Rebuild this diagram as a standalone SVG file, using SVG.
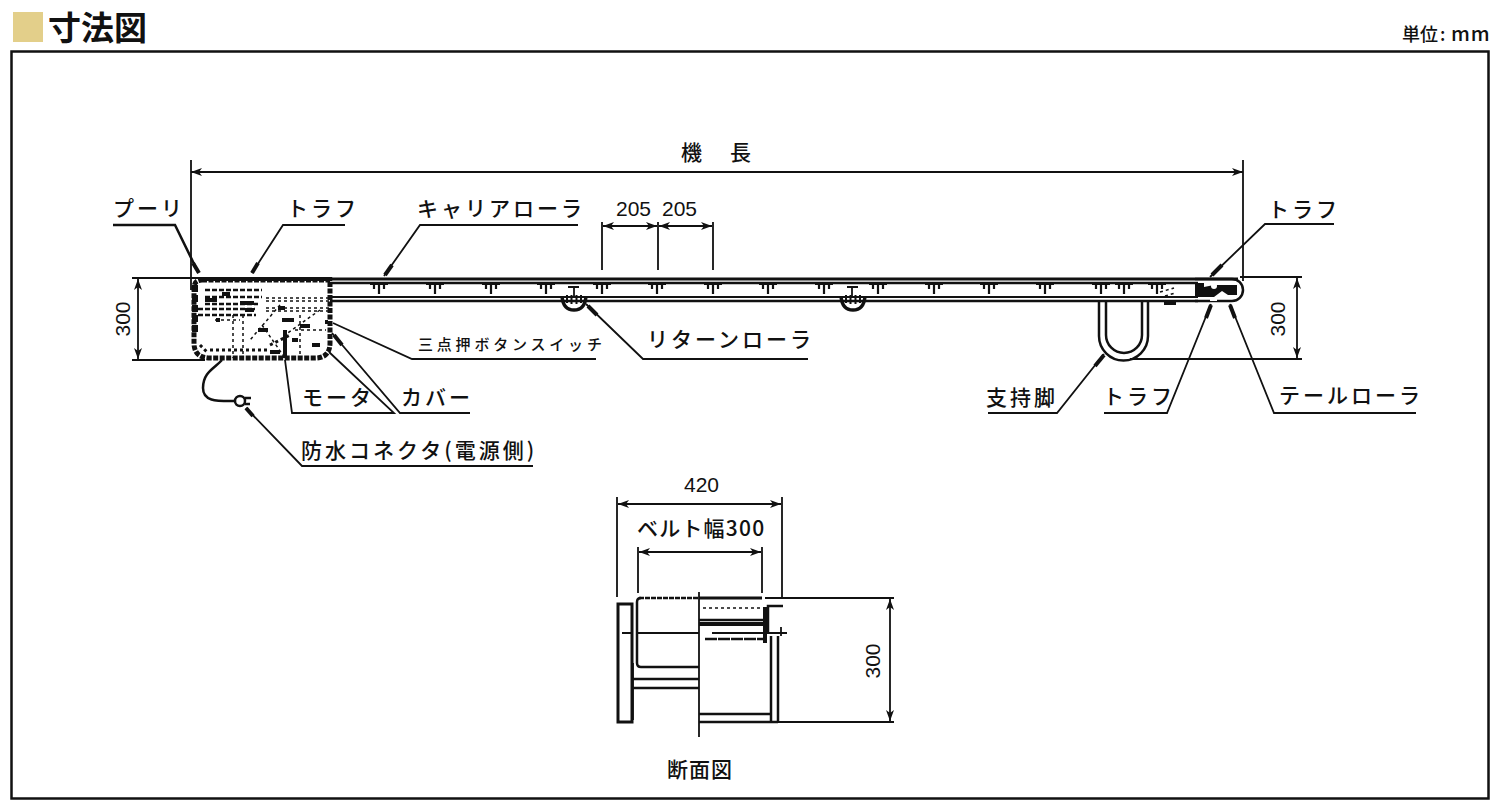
<svg xmlns="http://www.w3.org/2000/svg" width="1500" height="811" viewBox="0 0 1500 811">
<style>
text{font-family:"Noto Sans CJK JP","Liberation Sans",sans-serif;fill:#111;font-weight:500}
.t{font-size:21px;letter-spacing:3px}
.n{font-size:21px;font-family:"Liberation Sans",sans-serif}
.l{fill:none;stroke:#111;stroke-width:1.800}
.m{fill:none;stroke:#111;stroke-width:2.500}
.h{fill:none;stroke:#111;stroke-width:4}
.d{fill:none;stroke:#111;stroke-width:1.500;stroke-dasharray:3 3}
.k{fill:none;stroke:#111;stroke-width:2.500;stroke-dasharray:5 2}
.r{fill:#111;stroke:none}
</style>
<defs>
<marker id="a" viewBox="0 0 12 8" refX="11" refY="4" markerWidth="12" markerHeight="8" markerUnits="userSpaceOnUse" orient="auto-start-reverse"><path d="M0 0L11 4L0 8L3 4Z" fill="#111"/></marker>
<g id="cr"><path d="M-9 -1H9M0 -3V9M-5 -1V4M5 -1V4" fill="none" stroke="#111" stroke-width="2.200"/></g>
<g id="rr"><path d="M-12 0Q-11 14 0 14Q11 14 12 0" fill="none" stroke="#111" stroke-width="3.500"/><path d="M-7 -1V7M-2.500 -1V8M2.500 -1V8M7 -1V7" fill="none" stroke="#111" stroke-width="2"/></g>
</defs>
<g id="header">
<rect x="13" y="12" width="30" height="30" fill="#e3cf8a"/>
<text x="48" y="40" font-size="33" style="font-weight:700">寸法図</text>
<text x="1402" y="41" font-size="18">単位</text>
<text x="1440" y="41" font-size="18">:</text>
<text x="1451" y="41" font-size="20" letter-spacing="1">mm</text>
</g>
<rect id="frame" x="11.500" y="51.500" width="1477" height="747" fill="none" stroke="#111" stroke-width="2.500"/>
<g id="connectors">
<path class="l" d="M191 160V290M1243 160V281" />
<path class="l" d="M191 172H1243" marker-start="url(#a)" marker-end="url(#a)"/>
<path class="l" d="M602 270V222M658 270V222M713 270V222"/>
<path class="l" d="M603 226H657" marker-start="url(#a)" marker-end="url(#a)"/>
<path class="l" d="M659 226H712" marker-start="url(#a)" marker-end="url(#a)"/>
<path class="l" d="M132 278H200M132 360H205"/>
<path class="l" d="M138 279V359" marker-start="url(#a)" marker-end="url(#a)"/>
<path class="l" d="M1240 277H1302M1130 359H1302"/>
<path class="l" d="M1297 278V358" marker-start="url(#a)" marker-end="url(#a)"/>
<path class="m" d="M113 225H175L198 272"/>
<path class="h" d="M193 263L199 273"/>
<path class="l" d="M345 225H283L252 273"/>
<path class="h" d="M258 263L252 273"/>
<path class="l" d="M578 225H420L384 276"/>
<path class="h" d="M392 265L385 275"/>
<path class="l" d="M1334 224H1265L1210 277"/>
<path class="h" d="M1222 265L1212 275"/>
<path class="l" d="M808 359H643L586 304"/>
<path class="h" d="M597 315L588 306"/>
<path class="l" d="M596 359H412L333 323"/>
<path class="l" d="M470 413H400L332 333"/>
<path class="h" d="M342 345L334 335"/>
<path class="l" d="M368 413H394L329 352"/>
<path class="l" d="M368 413H292L285 360"/>
<path class="l" d="M533 466H302L246 408"/>
<path class="h" d="M253 416L246 408"/>
<path class="l" d="M988 413H1057L1104 354"/>
<path class="h" d="M1095 366L1104 355"/>
<path class="l" d="M1104 413H1167L1211 304"/>
<path class="h" d="M1206 318L1211 305"/>
<path class="l" d="M1416 413H1274L1230 304"/>
<path class="h" d="M1235 318L1230 305"/>
<path class="l" d="M617 497V597M782 497V597"/>
<path class="l" d="M618 504H781" marker-start="url(#a)" marker-end="url(#a)"/>
<path class="l" d="M638 547V593M762 547V593"/>
<path class="l" d="M639 552H761" marker-start="url(#a)" marker-end="url(#a)"/>
<path class="l" d="M765 598H894M778 722H894"/>
<path class="l" d="M890 599V721" marker-start="url(#a)" marker-end="url(#a)"/>
</g>
<g id="drive-unit">
<path d="M202 280H330V343Q330 358 315 358H210Q194 358 194 343V288Q194 280 202 280Z" fill="none" stroke="#111" stroke-width="5" stroke-dasharray="5 1.500"/>
<path d="M200 279H332" stroke="#111" stroke-width="4"/>
<path d="M195 285V335" stroke="#111" stroke-width="6" stroke-dasharray="7 3"/>
<path class="k" d="M205 290H262M205 297H262M205 304H258M198 309H255M198 315H256"/>
<path class="d" d="M266 298H330M266 301H330M266 308H330M266 311H330M233 315V358M243 315V358M262 325L285 358M280 305L250 340M300 315V355M320 310L285 335M215 320H240M295 330H326"/>
<path class="h" d="M205 300h12M222 294h8M240 303h14M245 310h9M278 308h7M282 320h12M285 330v28M258 330h10M312 345h8M325 322h3M300 326h10M216 320h4M292 340h6M270 352h10"/>
<path class="d" d="M200 345l8 8M210 350h60M270 345l20 -10" style="stroke-width:3"/>
<path class="m" d="M222 360C215 368 203 372 203 388C203 402 218 401 234 401"/>
<circle cx="240" cy="401" r="5" fill="#fff" stroke="#111" stroke-width="2.500"/>
<path class="m" d="M245 398h6M245 404h5"/>
</g>
<g id="conveyor">
<path d="M330 279H1238" class="m" style="stroke-width:3"/>
<path class="m" d="M330 283H1198"/>
<path class="l" d="M330 297H1198"/>
<path class="m" d="M330 301H1198"/>
<use href="#cr" x="379" y="285"/><use href="#cr" x="435" y="285"/><use href="#cr" x="491" y="285"/><use href="#cr" x="546" y="285"/><use href="#cr" x="602" y="285"/><use href="#cr" x="657" y="285"/><use href="#cr" x="713" y="285"/><use href="#cr" x="768" y="285"/><use href="#cr" x="824" y="285"/><use href="#cr" x="878" y="285"/><use href="#cr" x="934" y="285"/><use href="#cr" x="989" y="285"/><use href="#cr" x="1045" y="285"/><use href="#cr" x="1101" y="285"/><use href="#cr" x="1124" y="285"/><use href="#cr" x="1157" y="285"/>
<path class="l" d="M568 287H579M574 287V296M847 287H858M852 287V296"/>
<use href="#rr" x="574" y="296"/><use href="#rr" x="853" y="296"/>
<path class="h" d="M1164 303h12"/>
<path class="d" d="M1160 292l14 -4M1165 296l10 -3"/>
</g>
<g id="tail-end">
<path class="m" d="M1195 279H1232A11 11 0 0 1 1243 290A11 11 0 0 1 1232 301H1195"/>
<path class="r" d="M1195 283H1204V287L1214 285H1237V295H1228L1222 291L1214 297H1195Z"/>
<circle cx="1214" cy="286" r="3" fill="#fff"/>
<rect x="1210" y="297" width="7" height="4" fill="#fff"/>
</g>
<g id="support-leg">
<path class="m" d="M1099 302V336A24 24 0 0 0 1148 336V302"/>
<path class="m" d="M1106 302V335A18 18 0 0 0 1142 335V302"/>
</g>
<g id="section-view">
<rect x="618" y="604" width="14" height="118" fill="none" stroke="#111" stroke-width="3"/>
<path class="l" d="M699 592V737"/>
<path class="h" d="M699 598H762" style="stroke-width:3"/>
<path class="d" d="M765 598H775"/>
<path class="m" d="M641 598Q637 598 637 602V663Q637 667 641 667H699"/>
<path class="m" d="M639 598H699" stroke-dasharray="5 1"/>
<path class="l" d="M633 663V720"/>
<path class="m" d="M633 679H699M633 688H699"/>
<path class="h" d="M699 624H764" style="stroke-width:4"/>
<path class="m" d="M699 620H765"/>
<path class="d" d="M703 608H762"/>
<path class="m" d="M705 639H764" stroke-dasharray="12 1"/>
<path class="l" d="M622 633H632M637 633H699M712 633H787"/>
<path class="m" d="M765 607V643" style="stroke-width:4"/>
<path class="m" d="M783 606H768V633"/>
<path class="l" d="M781 627V636"/>
<path class="m" d="M771 636V722M778 636V722"/>
<path class="m" d="M699 714H771M699 722H778"/>
</g>
<g id="labels">
<text class="t" x="113" y="216">プーリ</text>
<text class="t" x="287" y="216">トラフ</text>
<text class="t" x="417" y="216">キャリアローラ</text>
<text class="n" x="616" y="216">205</text>
<text class="n" x="662" y="216">205</text>
<text class="t" x="681" y="160">機</text><text class="t" x="730" y="160">長</text>
<text class="t" x="1268" y="217">トラフ</text>
<text class="n" transform="translate(130 319) rotate(-90)" text-anchor="middle">300</text>
<text class="n" transform="translate(1285 319) rotate(-90)" text-anchor="middle">300</text>
<text x="418" y="350" font-size="15" letter-spacing="3.800">三点押ボタンスイッチ</text>
<text class="t" x="647" y="347">リターンローラ</text>
<text class="t" x="302" y="405">モータ</text>
<text class="t" x="401" y="405">カバー</text>
<text class="t" x="301" y="458">防水コネクタ(電源側)</text>
<text class="t" x="986" y="405">支持脚</text>
<text class="t" x="1103" y="404">トラフ</text>
<text class="t" x="1279" y="403">テールローラ</text>
<text class="n" x="684" y="492">420</text>
<text x="637" y="536" font-size="21" letter-spacing="1.200">ベルト幅300</text>
<text class="n" transform="translate(880 661) rotate(-90)" text-anchor="middle">300</text>
<text x="667" y="777" font-size="21" letter-spacing="1">断面図</text>
</g>
</svg>
